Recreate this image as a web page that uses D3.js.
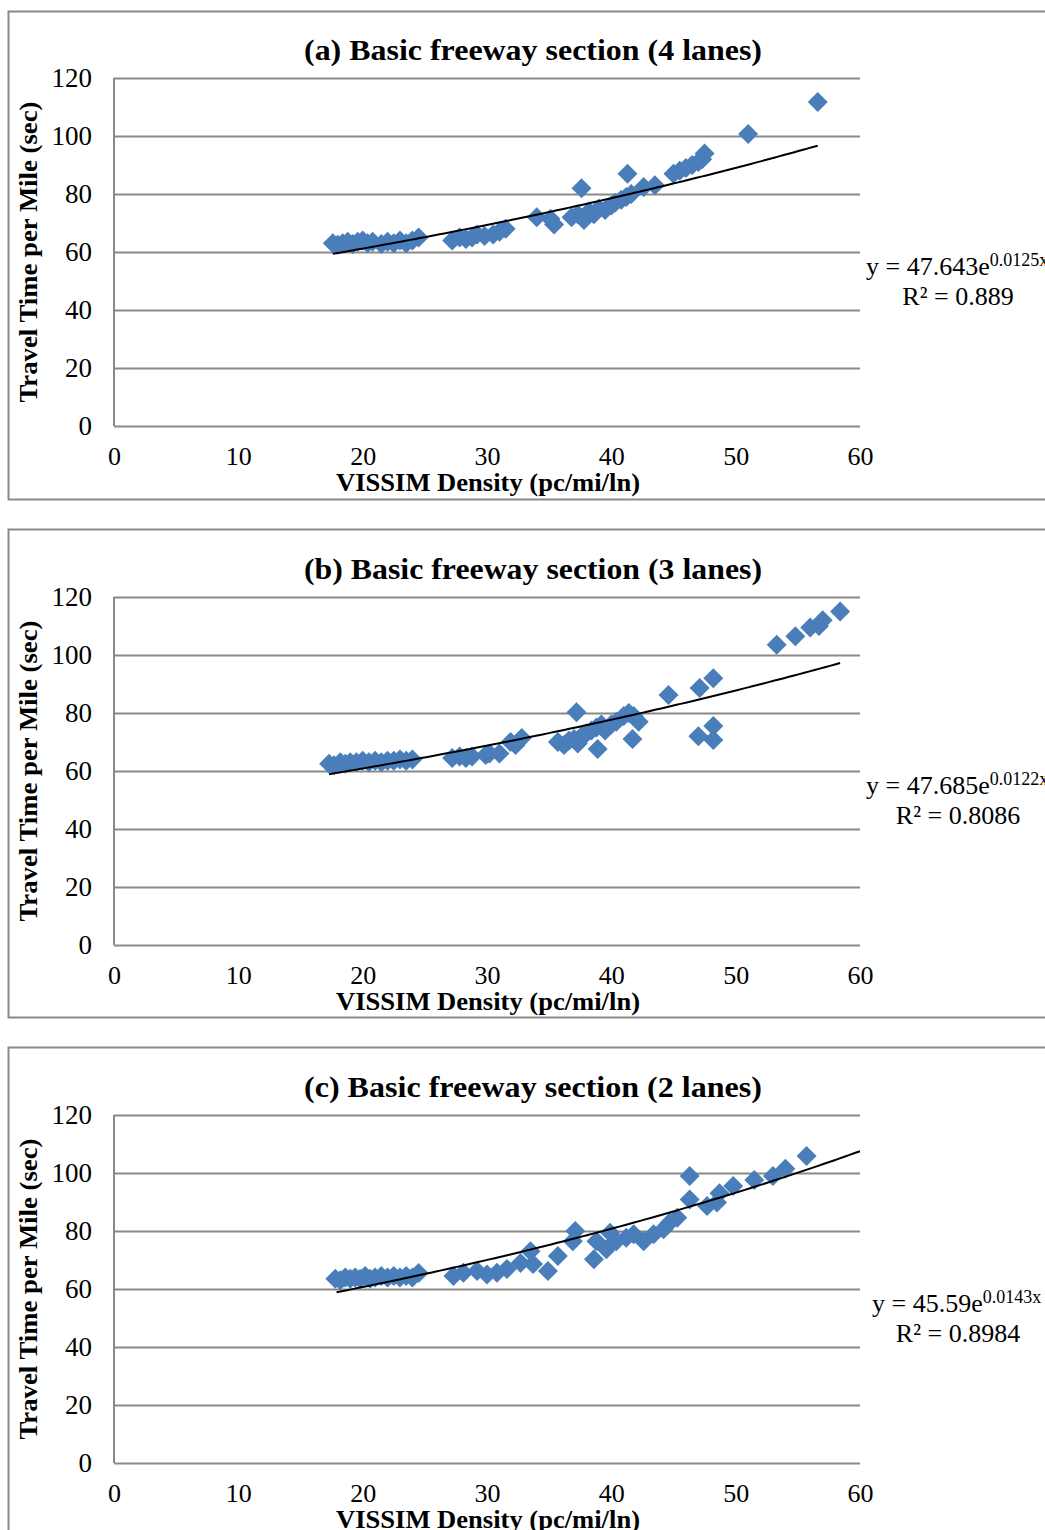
<!DOCTYPE html>
<html>
<head>
<meta charset="utf-8">
<script src="https://cdn.jsdelivr.net/npm/d3@7"></script>
<style>
  body { margin: 0; background: #fff; }
  text { font-family: "Liberation Serif", "Times New Roman", serif; fill: #000; }
</style>
</head>
<body>
<div class="chart"></div>
<script>
// Travel time vs VISSIM density, three basic freeway sections

var xTicks = [0, 10, 20, 30, 40, 50, 60];
var yTicks = [0, 20, 40, 60, 80, 100, 120];

// (a) 4 lanes
var densityA = [17.6, 18.0, 18.4, 18.8, 19.2, 19.6, 20.0, 20.4, 20.8, 21.5, 22.0, 22.5, 23.0, 23.5, 24.0, 24.5,
  27.2, 27.8, 28.3, 28.8, 29.2, 29.8, 30.5, 31.0, 31.5,
  34.0, 35.1, 35.4, 36.8, 37.3, 37.6, 37.8, 38.2, 38.6, 39.0, 39.5, 40.0, 40.3, 40.8, 41.2, 41.3, 41.6,
  42.6, 43.5, 45.0, 45.5, 46.0, 46.5, 47.0, 47.3, 47.5, 51.0, 56.6];
var timeA = [63, 62.5, 63, 63.5, 62.8, 63.5, 64, 63, 63.5, 62.8, 63.5, 63, 64, 63, 64, 65,
  64, 65, 64.5, 65, 66, 65.5, 66, 67, 68,
  72, 71.5, 69.5, 72, 73, 82, 71, 74, 73, 75, 74.5, 76, 77, 78, 79, 87, 80,
  82.4, 83, 87, 88, 89, 90, 91, 92, 94, 100.7, 111.7];
var fitA = { a: 47.643, b: 0.0125, r2: "0.889", expo: "0.0125x", lead: "y = 47.643e", xMin: 17.6, xMax: 56.6 };

// (b) 3 lanes
var densityB = [17.3, 17.7, 18.2, 18.6, 19.0, 19.5, 20.0, 20.5, 21.0, 21.5, 22.0, 22.5, 23.0, 23.5, 24.0,
  27.2, 27.8, 28.3, 28.8, 29.9, 30.2, 31.0, 31.9, 32.3, 32.8,
  35.7, 36.2, 36.6, 37.0, 37.2, 37.3, 37.6, 38.0, 38.4, 38.8, 38.9, 39.2, 39.5, 40.0, 40.4, 41.0, 41.4, 41.7, 41.8, 42.2,
  44.6, 47.0, 47.1, 48.2, 48.2, 48.2,
  53.3, 54.8, 56.0, 56.7, 57.0, 58.4];
var timeB = [62.5, 62, 63, 62.5, 63, 63, 63.5, 63, 63.5, 63, 63.5, 63.5, 64, 63.5, 64,
  64.5, 65, 64.5, 65, 65.5, 66, 66, 70, 69, 71.4,
  70, 69, 70.5, 71, 80.3, 69.5, 72, 73, 74, 75, 67.6, 76, 74, 76, 77, 79, 80, 71, 79, 77,
  86.2, 72, 88.6, 92, 75.5, 70.7,
  103.5, 106.5, 109.5, 110, 112, 115];
var fitB = { a: 47.685, b: 0.0122, r2: "0.8086", expo: "0.0122x", lead: "y = 47.685e", xMin: 17.3, xMax: 58.4 };

// (c) 2 lanes
var densityC = [17.8, 18.2, 18.6, 19.0, 19.4, 19.8, 20.2, 20.6, 21.0, 21.5, 22.0, 22.5, 23.0, 23.5, 24.0, 24.5,
  27.3, 28.1, 29.2, 30.0, 30.8, 31.6, 32.7, 33.5, 33.7, 34.9, 35.7,
  36.9, 37.1, 38.6, 38.8, 39.6, 39.9, 40.4, 41.2, 41.8, 42.6, 43.4, 44.2, 44.7, 45.3,
  46.3, 46.3, 47.7, 48.5, 48.7, 49.8, 51.5, 53.0, 54.0, 55.7];
var timeC = [63.5, 63, 64, 63.5, 64, 63.5, 64.5, 63.5, 64, 64.5, 64, 64.5, 64, 64.5, 64, 65.5,
  64.5, 65.6, 66.2, 65, 65.6, 66.9, 69, 73, 68.6, 66.2, 71.4,
  76.5, 80, 70.3, 76.5, 73.7, 79.4, 76.5, 77.7, 78.9, 76.5, 78.9, 80.6, 82.9, 84.6,
  90.9, 99, 88.6, 89.8, 93, 95.5, 97.6, 99, 101.5, 105.9];
var fitC = { a: 45.59, b: 0.0143, r2: "0.8984", expo: "0.0143x", lead: "y = 45.59e", xMin: 17.9, xMax: 60 };

var titles = ["(a) Basic freeway section (4 lanes)", "(b) Basic freeway section (3 lanes)", "(c) Basic freeway section (2 lanes)"];
var xTitle = "VISSIM Density (pc/mi/ln)";
var yTitle = "Travel Time per Mile (sec)";

var svgWidth = 1045;
var svgHeight = 1530;

var svg = d3.select(".chart")
  .append("svg")
  .attr("width", svgWidth)
  .attr("height", svgHeight);

var plotLeft = 114;
var plotWidth = 746;
var plotHeight = 348;

var xScale = d3.scaleLinear().domain([0, 60]).range([0, plotWidth]);
var yScale = d3.scaleLinear().domain([0, 120]).range([plotHeight, 0]);

var gridColor = "#898989";
var markerColor = "#4a7ebb";

function drawPanel(frameTop, plotTop, title, xs, ys, fit) {
  // outer frame, runs off the right edge of the page
  svg.append("rect")
    .attr("x", 8.5)
    .attr("y", frameTop + 0.5)
    .attr("width", 1100)
    .attr("height", 488)
    .attr("fill", "none")
    .attr("stroke", gridColor)
    .attr("stroke-width", 2);

  var g = svg.append("g")
    .attr("transform", "translate(" + plotLeft + "," + plotTop + ")");

  // gridlines + y labels
  var leftAxis = d3.axisLeft(yScale)
    .tickValues(yTicks)
    .tickSize(-plotWidth)
    .tickPadding(22)
    .tickFormat(d3.format("d"));
  var yAxisG = g.append("g").call(leftAxis);
  yAxisG.select(".domain").remove();
  yAxisG.selectAll("line").attr("stroke", gridColor).attr("stroke-width", 2);
  yAxisG.selectAll("text")
    .style("font-family", "Liberation Serif")
    .style("font-size", "27px")
    .attr("dy", "0.33em");

  // left axis line
  g.append("line")
    .attr("x1", 0).attr("x2", 0)
    .attr("y1", 0).attr("y2", plotHeight)
    .attr("stroke", gridColor)
    .attr("stroke-width", 2);

  var bottomAxis = d3.axisBottom(xScale)
    .tickValues(xTicks)
    .tickSize(0)
    .tickPadding(21)
    .tickFormat(d3.format("d"));
  var xAxisG = g.append("g")
    .attr("transform", "translate(0," + plotHeight + ")")
    .call(bottomAxis);
  xAxisG.select(".domain").remove();
  xAxisG.selectAll("text")
    .style("font-family", "Liberation Serif")
    .style("font-size", "26px");

  // points
  var pts = xs.map(function(d, i) { return { x: d, y: ys[i] }; });
  var diamond = d3.symbol().type(d3.symbolSquare).size(200);
  g.selectAll("path.pt")
    .data(pts)
    .enter().append("path")
    .attr("class", "pt")
    .attr("d", diamond)
    .attr("fill", markerColor)
    .attr("transform", function(d) {
      return "translate(" + xScale(d.x) + "," + yScale(d.y) + ") rotate(45)";
    });

  // exponential trendline
  var trend = d3.range(0, 101).map(function(i) {
    var x = fit.xMin + (fit.xMax - fit.xMin) * i / 100;
    return { x: x, y: fit.a * Math.exp(fit.b * x) };
  });
  g.append("path")
    .datum(trend)
    .attr("fill", "none")
    .attr("stroke", "#000")
    .attr("stroke-width", 2)
    .attr("d", d3.line()
      .x(function(d) { return xScale(d.x); })
      .y(function(d) { return yScale(d.y); }));

  // title
  svg.append("text")
    .attr("x", 533)
    .attr("y", plotTop - 18)
    .attr("text-anchor", "middle")
    .attr("textLength", 458)
    .attr("lengthAdjust", "spacingAndGlyphs")
    .style("font-size", "29px")
    .style("font-weight", "bold")
    .text(title);

  // axis titles
  svg.append("text")
    .attr("x", 488)
    .attr("y", plotTop + plotHeight + 65)
    .attr("text-anchor", "middle")
    .attr("textLength", 304)
    .attr("lengthAdjust", "spacingAndGlyphs")
    .style("font-size", "25px")
    .style("font-weight", "bold")
    .text(xTitle);

  svg.append("text")
    .attr("transform", "translate(37," + (plotTop + plotHeight / 2) + ") rotate(-90)")
    .attr("text-anchor", "middle")
    .attr("textLength", 301)
    .attr("lengthAdjust", "spacingAndGlyphs")
    .style("font-size", "25px")
    .style("font-weight", "bold")
    .text(yTitle);

  // equation label
  var eq = svg.append("text")
    .attr("x", plotLeft + plotWidth + 6 + (fit.lead.length < 11 ? 6 : 0))
    .attr("y", plotTop + 197)
    .style("font-size", "26px");
  eq.append("tspan").text(fit.lead);
  eq.append("tspan")
    .attr("dy", -9)
    .style("font-size", "18px")
    .text(fit.expo);

  svg.append("text")
    .attr("x", 958)
    .attr("y", plotTop + 227)
    .attr("text-anchor", "middle")
    .style("font-size", "26px")
    .text("R\u00b2 = " + fit.r2);
}

drawPanel(11, 78, titles[0], densityA, timeA, fitA);
drawPanel(529, 597, titles[1], densityB, timeB, fitB);
drawPanel(1047, 1115, titles[2], densityC, timeC, fitC);
</script>
</body>
</html>
